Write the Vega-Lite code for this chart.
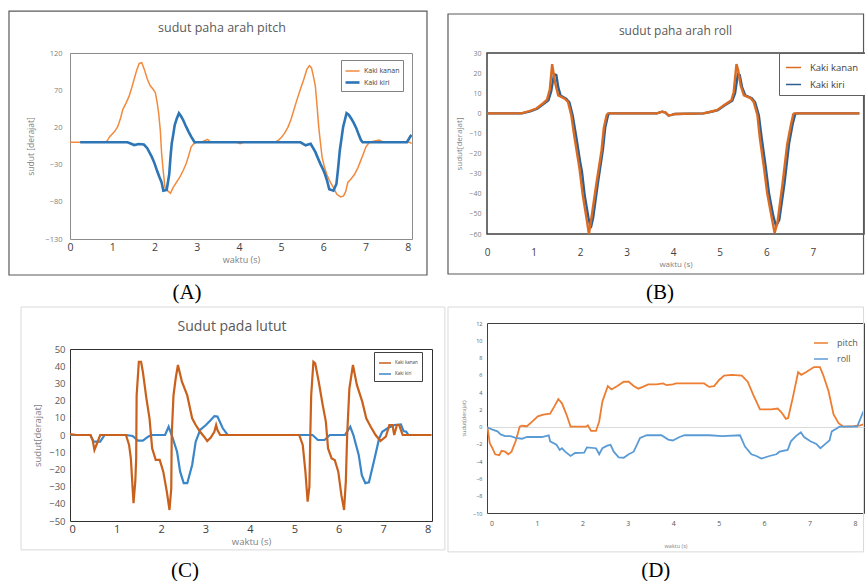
{
  "$schema": "https://vega.github.io/schema/vega-lite/v6.json",
  "background": "white",
  "padding": {"left": 7, "top": 9, "right": 0, "bottom": 0},
  "config": {
    "font": "Open Sans",
    "view": {"stroke": "#404040", "strokeWidth": 1},
    "axis": {"domain": false, "ticks": false, "grid": false, "labelColor": "#595959", "titleColor": "#7f7f7f", "titleFontWeight": "normal", "labelFlush": false, "labelOverlap": false},
    "title": {"fontWeight": "normal", "color": "#595959"},
    "legend": {"title": null, "symbolType": "stroke", "labelColor": "#404040"}
  },
  "resolve": {"scale": {"color": "independent", "strokeWidth": "independent"}, "legend": {"color": "independent", "strokeWidth": "independent"}},
  "datasets": {
    "frame": [{}],
    "A": [
      {"t":0,"v":0,"s":"Kaki kanan"},{"t":0.82,"v":0,"s":"Kaki kanan"},{"t":0.88,"v":2,"s":"Kaki kanan"},{"t":0.94,"v":7.5,"s":"Kaki kanan"},{"t":1.05,"v":14,"s":"Kaki kanan"},{"t":1.13,"v":21,"s":"Kaki kanan"},{"t":1.2,"v":33,"s":"Kaki kanan"},{"t":1.25,"v":44,"s":"Kaki kanan"},{"t":1.33,"v":53,"s":"Kaki kanan"},{"t":1.4,"v":62,"s":"Kaki kanan"},{"t":1.46,"v":73,"s":"Kaki kanan"},{"t":1.52,"v":85,"s":"Kaki kanan"},{"t":1.58,"v":97,"s":"Kaki kanan"},{"t":1.64,"v":106,"s":"Kaki kanan"},{"t":1.7,"v":107,"s":"Kaki kanan"},{"t":1.76,"v":98,"s":"Kaki kanan"},{"t":1.83,"v":85,"s":"Kaki kanan"},{"t":1.9,"v":76,"s":"Kaki kanan"},{"t":1.96,"v":72,"s":"Kaki kanan"},{"t":2.02,"v":67,"s":"Kaki kanan"},{"t":2.06,"v":55,"s":"Kaki kanan"},{"t":2.1,"v":39,"s":"Kaki kanan"},{"t":2.14,"v":15,"s":"Kaki kanan"},{"t":2.17,"v":-15,"s":"Kaki kanan"},{"t":2.21,"v":-40,"s":"Kaki kanan"},{"t":2.25,"v":-61,"s":"Kaki kanan"},{"t":2.33,"v":-66,"s":"Kaki kanan"},{"t":2.38,"v":-68.5,"s":"Kaki kanan"},{"t":2.44,"v":-61,"s":"Kaki kanan"},{"t":2.52,"v":-54,"s":"Kaki kanan"},{"t":2.6,"v":-47,"s":"Kaki kanan"},{"t":2.68,"v":-38,"s":"Kaki kanan"},{"t":2.75,"v":-29,"s":"Kaki kanan"},{"t":2.81,"v":-18,"s":"Kaki kanan"},{"t":2.87,"v":-6,"s":"Kaki kanan"},{"t":2.93,"v":-2,"s":"Kaki kanan"},{"t":2.99,"v":0,"s":"Kaki kanan"},{"t":3.15,"v":1,"s":"Kaki kanan"},{"t":3.26,"v":4,"s":"Kaki kanan"},{"t":3.33,"v":0,"s":"Kaki kanan"},{"t":3.95,"v":0,"s":"Kaki kanan"},{"t":4.03,"v":-2,"s":"Kaki kanan"},{"t":4.1,"v":0,"s":"Kaki kanan"},{"t":4.85,"v":0,"s":"Kaki kanan"},{"t":4.92,"v":2,"s":"Kaki kanan"},{"t":5.0,"v":6,"s":"Kaki kanan"},{"t":5.08,"v":12,"s":"Kaki kanan"},{"t":5.16,"v":20,"s":"Kaki kanan"},{"t":5.23,"v":30,"s":"Kaki kanan"},{"t":5.3,"v":43,"s":"Kaki kanan"},{"t":5.38,"v":58,"s":"Kaki kanan"},{"t":5.46,"v":72,"s":"Kaki kanan"},{"t":5.54,"v":85,"s":"Kaki kanan"},{"t":5.61,"v":98,"s":"Kaki kanan"},{"t":5.67,"v":103,"s":"Kaki kanan"},{"t":5.72,"v":100,"s":"Kaki kanan"},{"t":5.76,"v":90,"s":"Kaki kanan"},{"t":5.81,"v":76,"s":"Kaki kanan"},{"t":5.85,"v":50,"s":"Kaki kanan"},{"t":5.89,"v":21,"s":"Kaki kanan"},{"t":5.93,"v":0,"s":"Kaki kanan"},{"t":5.97,"v":-20,"s":"Kaki kanan"},{"t":6.02,"v":-32,"s":"Kaki kanan"},{"t":6.08,"v":-43,"s":"Kaki kanan"},{"t":6.16,"v":-53,"s":"Kaki kanan"},{"t":6.24,"v":-61,"s":"Kaki kanan"},{"t":6.32,"v":-70,"s":"Kaki kanan"},{"t":6.41,"v":-73.5,"s":"Kaki kanan"},{"t":6.48,"v":-72,"s":"Kaki kanan"},{"t":6.53,"v":-66,"s":"Kaki kanan"},{"t":6.58,"v":-54,"s":"Kaki kanan"},{"t":6.66,"v":-49,"s":"Kaki kanan"},{"t":6.74,"v":-43,"s":"Kaki kanan"},{"t":6.82,"v":-34,"s":"Kaki kanan"},{"t":6.89,"v":-24,"s":"Kaki kanan"},{"t":6.95,"v":-15,"s":"Kaki kanan"},{"t":7.01,"v":-6,"s":"Kaki kanan"},{"t":7.09,"v":0,"s":"Kaki kanan"},{"t":7.32,"v":3,"s":"Kaki kanan"},{"t":7.43,"v":0,"s":"Kaki kanan"},{"t":8.05,"v":0,"s":"Kaki kanan"},{"t":8.09,"v":-2,"s":"Kaki kanan"},
      {"t":0.24,"v":0,"s":"Kaki kiri"},{"t":1.36,"v":0,"s":"Kaki kiri"},{"t":1.45,"v":-2,"s":"Kaki kiri"},{"t":1.52,"v":-3.7,"s":"Kaki kiri"},{"t":1.63,"v":-2.4,"s":"Kaki kiri"},{"t":1.75,"v":-3,"s":"Kaki kiri"},{"t":1.83,"v":-8,"s":"Kaki kiri"},{"t":1.94,"v":-20,"s":"Kaki kiri"},{"t":2.0,"v":-28,"s":"Kaki kiri"},{"t":2.06,"v":-38,"s":"Kaki kiri"},{"t":2.12,"v":-47,"s":"Kaki kiri"},{"t":2.17,"v":-54,"s":"Kaki kiri"},{"t":2.21,"v":-65,"s":"Kaki kiri"},{"t":2.29,"v":-64,"s":"Kaki kiri"},{"t":2.35,"v":-43,"s":"Kaki kiri"},{"t":2.38,"v":-20,"s":"Kaki kiri"},{"t":2.41,"v":-1.5,"s":"Kaki kiri"},{"t":2.45,"v":12,"s":"Kaki kiri"},{"t":2.48,"v":23,"s":"Kaki kiri"},{"t":2.53,"v":32,"s":"Kaki kiri"},{"t":2.58,"v":39,"s":"Kaki kiri"},{"t":2.63,"v":35,"s":"Kaki kiri"},{"t":2.68,"v":30,"s":"Kaki kiri"},{"t":2.75,"v":21,"s":"Kaki kiri"},{"t":2.81,"v":14,"s":"Kaki kiri"},{"t":2.87,"v":7.5,"s":"Kaki kiri"},{"t":2.95,"v":0,"s":"Kaki kiri"},{"t":5.46,"v":0,"s":"Kaki kiri"},{"t":5.58,"v":-4,"s":"Kaki kiri"},{"t":5.7,"v":-2,"s":"Kaki kiri"},{"t":5.81,"v":-13,"s":"Kaki kiri"},{"t":5.87,"v":-21,"s":"Kaki kiri"},{"t":5.93,"v":-29,"s":"Kaki kiri"},{"t":5.99,"v":-36,"s":"Kaki kiri"},{"t":6.04,"v":-43,"s":"Kaki kiri"},{"t":6.09,"v":-52,"s":"Kaki kiri"},{"t":6.14,"v":-63,"s":"Kaki kiri"},{"t":6.24,"v":-65,"s":"Kaki kiri"},{"t":6.31,"v":-56,"s":"Kaki kiri"},{"t":6.35,"v":-35,"s":"Kaki kiri"},{"t":6.39,"v":-11,"s":"Kaki kiri"},{"t":6.43,"v":5,"s":"Kaki kiri"},{"t":6.47,"v":21,"s":"Kaki kiri"},{"t":6.51,"v":30,"s":"Kaki kiri"},{"t":6.55,"v":39,"s":"Kaki kiri"},{"t":6.6,"v":37,"s":"Kaki kiri"},{"t":6.66,"v":32,"s":"Kaki kiri"},{"t":6.72,"v":26,"s":"Kaki kiri"},{"t":6.78,"v":19,"s":"Kaki kiri"},{"t":6.84,"v":10,"s":"Kaki kiri"},{"t":6.89,"v":3,"s":"Kaki kiri"},{"t":6.93,"v":0,"s":"Kaki kiri"},{"t":7.98,"v":0,"s":"Kaki kiri"},{"t":8.06,"v":7.7,"s":"Kaki kiri"},{"t":8.09,"v":10,"s":"Kaki kiri"}
    ],
    "B": [
      {"t":0,"v":0,"s":"Kaki kiri"},{"t":0.75,"v":0,"s":"Kaki kiri"},{"t":0.93,"v":1,"s":"Kaki kiri"},{"t":1.08,"v":2.3,"s":"Kaki kiri"},{"t":1.22,"v":4.7,"s":"Kaki kiri"},{"t":1.32,"v":6.5,"s":"Kaki kiri"},{"t":1.38,"v":11,"s":"Kaki kiri"},{"t":1.44,"v":19.5,"s":"Kaki kiri"},{"t":1.49,"v":19,"s":"Kaki kiri"},{"t":1.53,"v":13,"s":"Kaki kiri"},{"t":1.58,"v":8.9,"s":"Kaki kiri"},{"t":1.7,"v":7.3,"s":"Kaki kiri"},{"t":1.77,"v":5.5,"s":"Kaki kiri"},{"t":1.84,"v":-1,"s":"Kaki kiri"},{"t":1.92,"v":-12,"s":"Kaki kiri"},{"t":2.0,"v":-24,"s":"Kaki kiri"},{"t":2.04,"v":-29,"s":"Kaki kiri"},{"t":2.1,"v":-41,"s":"Kaki kiri"},{"t":2.18,"v":-52,"s":"Kaki kiri"},{"t":2.23,"v":-57,"s":"Kaki kiri"},{"t":2.28,"v":-52,"s":"Kaki kiri"},{"t":2.38,"v":-35,"s":"Kaki kiri"},{"t":2.49,"v":-18,"s":"Kaki kiri"},{"t":2.54,"v":-7,"s":"Kaki kiri"},{"t":2.6,"v":-1,"s":"Kaki kiri"},{"t":2.63,"v":0,"s":"Kaki kiri"},{"t":3.65,"v":0,"s":"Kaki kiri"},{"t":3.76,"v":0.8,"s":"Kaki kiri"},{"t":3.83,"v":0.5,"s":"Kaki kiri"},{"t":3.9,"v":-1.1,"s":"Kaki kiri"},{"t":3.97,"v":-0.8,"s":"Kaki kiri"},{"t":4.04,"v":-0.3,"s":"Kaki kiri"},{"t":4.65,"v":0,"s":"Kaki kiri"},{"t":4.82,"v":0.8,"s":"Kaki kiri"},{"t":4.96,"v":1.6,"s":"Kaki kiri"},{"t":5.11,"v":4,"s":"Kaki kiri"},{"t":5.27,"v":6.3,"s":"Kaki kiri"},{"t":5.33,"v":10,"s":"Kaki kiri"},{"t":5.39,"v":19.5,"s":"Kaki kiri"},{"t":5.43,"v":19,"s":"Kaki kiri"},{"t":5.48,"v":13,"s":"Kaki kiri"},{"t":5.55,"v":8.9,"s":"Kaki kiri"},{"t":5.69,"v":7.5,"s":"Kaki kiri"},{"t":5.76,"v":5.5,"s":"Kaki kiri"},{"t":5.84,"v":-1,"s":"Kaki kiri"},{"t":5.9,"v":-12,"s":"Kaki kiri"},{"t":5.99,"v":-27,"s":"Kaki kiri"},{"t":6.06,"v":-40,"s":"Kaki kiri"},{"t":6.15,"v":-51,"s":"Kaki kiri"},{"t":6.21,"v":-56,"s":"Kaki kiri"},{"t":6.28,"v":-53,"s":"Kaki kiri"},{"t":6.39,"v":-35,"s":"Kaki kiri"},{"t":6.49,"v":-15,"s":"Kaki kiri"},{"t":6.57,"v":-5,"s":"Kaki kiri"},{"t":6.62,"v":-0.5,"s":"Kaki kiri"},{"t":6.65,"v":0,"s":"Kaki kiri"},{"t":8,"v":0,"s":"Kaki kiri"},
      {"t":0,"v":0,"s":"Kaki kanan"},{"t":0.73,"v":0,"s":"Kaki kanan"},{"t":0.91,"v":1.1,"s":"Kaki kanan"},{"t":1.06,"v":2.4,"s":"Kaki kanan"},{"t":1.2,"v":4.9,"s":"Kaki kanan"},{"t":1.29,"v":6.8,"s":"Kaki kanan"},{"t":1.35,"v":12,"s":"Kaki kanan"},{"t":1.4,"v":24.5,"s":"Kaki kanan"},{"t":1.43,"v":20,"s":"Kaki kanan"},{"t":1.47,"v":14.6,"s":"Kaki kanan"},{"t":1.53,"v":8.9,"s":"Kaki kanan"},{"t":1.67,"v":7.3,"s":"Kaki kanan"},{"t":1.74,"v":5.7,"s":"Kaki kanan"},{"t":1.81,"v":-0.8,"s":"Kaki kanan"},{"t":1.88,"v":-12,"s":"Kaki kanan"},{"t":1.96,"v":-23.5,"s":"Kaki kanan"},{"t":1.99,"v":-28,"s":"Kaki kanan"},{"t":2.06,"v":-41,"s":"Kaki kanan"},{"t":2.14,"v":-52.5,"s":"Kaki kanan"},{"t":2.19,"v":-60,"s":"Kaki kanan"},{"t":2.24,"v":-52.5,"s":"Kaki kanan"},{"t":2.35,"v":-35,"s":"Kaki kanan"},{"t":2.46,"v":-18.6,"s":"Kaki kanan"},{"t":2.51,"v":-7.3,"s":"Kaki kanan"},{"t":2.57,"v":-0.8,"s":"Kaki kanan"},{"t":2.6,"v":0,"s":"Kaki kanan"},{"t":3.65,"v":0,"s":"Kaki kanan"},{"t":3.76,"v":0.8,"s":"Kaki kanan"},{"t":3.83,"v":0.5,"s":"Kaki kanan"},{"t":3.9,"v":-1.1,"s":"Kaki kanan"},{"t":3.97,"v":-0.8,"s":"Kaki kanan"},{"t":4.04,"v":-0.3,"s":"Kaki kanan"},{"t":4.65,"v":0,"s":"Kaki kanan"},{"t":4.8,"v":0.8,"s":"Kaki kanan"},{"t":4.94,"v":1.6,"s":"Kaki kanan"},{"t":5.09,"v":4,"s":"Kaki kanan"},{"t":5.25,"v":6.5,"s":"Kaki kanan"},{"t":5.3,"v":10.5,"s":"Kaki kanan"},{"t":5.36,"v":24.5,"s":"Kaki kanan"},{"t":5.4,"v":21,"s":"Kaki kanan"},{"t":5.45,"v":13.8,"s":"Kaki kanan"},{"t":5.52,"v":8.9,"s":"Kaki kanan"},{"t":5.66,"v":7.6,"s":"Kaki kanan"},{"t":5.73,"v":5.7,"s":"Kaki kanan"},{"t":5.81,"v":-0.8,"s":"Kaki kanan"},{"t":5.86,"v":-12,"s":"Kaki kanan"},{"t":5.95,"v":-26.8,"s":"Kaki kanan"},{"t":6.02,"v":-39.7,"s":"Kaki kanan"},{"t":6.11,"v":-51,"s":"Kaki kanan"},{"t":6.18,"v":-59.5,"s":"Kaki kanan"},{"t":6.24,"v":-54.3,"s":"Kaki kanan"},{"t":6.35,"v":-35,"s":"Kaki kanan"},{"t":6.45,"v":-15.4,"s":"Kaki kanan"},{"t":6.53,"v":-5.7,"s":"Kaki kanan"},{"t":6.58,"v":-0.5,"s":"Kaki kanan"},{"t":6.6,"v":0,"s":"Kaki kanan"},{"t":8,"v":0,"s":"Kaki kanan"}
    ],
    "C": [
      {"t":-0.05,"v":0,"s":"Kaki kiri"},{"t":0.41,"v":0,"s":"Kaki kiri"},{"t":0.48,"v":-3.9,"s":"Kaki kiri"},{"t":0.63,"v":-3.9,"s":"Kaki kiri"},{"t":0.73,"v":0,"s":"Kaki kiri"},{"t":1.21,"v":0,"s":"Kaki kiri"},{"t":1.36,"v":-0.6,"s":"Kaki kiri"},{"t":1.48,"v":-3.3,"s":"Kaki kiri"},{"t":1.59,"v":-3.3,"s":"Kaki kiri"},{"t":1.71,"v":-1,"s":"Kaki kiri"},{"t":1.78,"v":0,"s":"Kaki kiri"},{"t":2.09,"v":0,"s":"Kaki kiri"},{"t":2.17,"v":4.8,"s":"Kaki kiri"},{"t":2.24,"v":0,"s":"Kaki kiri"},{"t":2.36,"v":-9.7,"s":"Kaki kiri"},{"t":2.43,"v":-21.3,"s":"Kaki kiri"},{"t":2.51,"v":-28,"s":"Kaki kiri"},{"t":2.59,"v":-28,"s":"Kaki kiri"},{"t":2.7,"v":-17.4,"s":"Kaki kiri"},{"t":2.78,"v":-3.9,"s":"Kaki kiri"},{"t":2.88,"v":2.9,"s":"Kaki kiri"},{"t":3.01,"v":5.8,"s":"Kaki kiri"},{"t":3.12,"v":8.7,"s":"Kaki kiri"},{"t":3.2,"v":11,"s":"Kaki kiri"},{"t":3.27,"v":10.7,"s":"Kaki kiri"},{"t":3.39,"v":3.9,"s":"Kaki kiri"},{"t":3.5,"v":0,"s":"Kaki kiri"},{"t":5.41,"v":0,"s":"Kaki kiri"},{"t":5.53,"v":-2.9,"s":"Kaki kiri"},{"t":5.68,"v":-2.9,"s":"Kaki kiri"},{"t":5.8,"v":0,"s":"Kaki kiri"},{"t":6.14,"v":0,"s":"Kaki kiri"},{"t":6.26,"v":4.8,"s":"Kaki kiri"},{"t":6.33,"v":0,"s":"Kaki kiri"},{"t":6.45,"v":-11.6,"s":"Kaki kiri"},{"t":6.52,"v":-23.3,"s":"Kaki kiri"},{"t":6.6,"v":-28,"s":"Kaki kiri"},{"t":6.68,"v":-27.5,"s":"Kaki kiri"},{"t":6.79,"v":-15.5,"s":"Kaki kiri"},{"t":6.91,"v":-2,"s":"Kaki kiri"},{"t":6.98,"v":1.9,"s":"Kaki kiri"},{"t":7.1,"v":3.9,"s":"Kaki kiri"},{"t":7.25,"v":5.8,"s":"Kaki kiri"},{"t":7.4,"v":6.2,"s":"Kaki kiri"},{"t":7.46,"v":2.3,"s":"Kaki kiri"},{"t":7.52,"v":1.9,"s":"Kaki kiri"},{"t":7.57,"v":0,"s":"Kaki kiri"},
      {"t":-0.05,"v":0.5,"s":"Kaki kanan"},{"t":0.1,"v":0,"s":"Kaki kanan"},{"t":0.41,"v":0,"s":"Kaki kanan"},{"t":0.46,"v":-3,"s":"Kaki kanan"},{"t":0.5,"v":-8.7,"s":"Kaki kanan"},{"t":0.56,"v":-4.8,"s":"Kaki kanan"},{"t":0.63,"v":0,"s":"Kaki kanan"},{"t":1.21,"v":0,"s":"Kaki kanan"},{"t":1.28,"v":-5.8,"s":"Kaki kanan"},{"t":1.32,"v":-13.6,"s":"Kaki kanan"},{"t":1.36,"v":-31,"s":"Kaki kanan"},{"t":1.38,"v":-39.7,"s":"Kaki kanan"},{"t":1.42,"v":-27,"s":"Kaki kanan"},{"t":1.44,"v":-13.6,"s":"Kaki kanan"},{"t":1.45,"v":23,"s":"Kaki kanan"},{"t":1.5,"v":42.6,"s":"Kaki kanan"},{"t":1.55,"v":42.6,"s":"Kaki kanan"},{"t":1.59,"v":36.8,"s":"Kaki kanan"},{"t":1.67,"v":21.3,"s":"Kaki kanan"},{"t":1.74,"v":9.7,"s":"Kaki kanan"},{"t":1.8,"v":-7.8,"s":"Kaki kanan"},{"t":1.88,"v":-14.5,"s":"Kaki kanan"},{"t":1.97,"v":-14.5,"s":"Kaki kanan"},{"t":2.05,"v":-21.3,"s":"Kaki kanan"},{"t":2.13,"v":-33,"s":"Kaki kanan"},{"t":2.19,"v":-43.6,"s":"Kaki kanan"},{"t":2.23,"v":-31,"s":"Kaki kanan"},{"t":2.24,"v":0,"s":"Kaki kanan"},{"t":2.28,"v":23,"s":"Kaki kanan"},{"t":2.33,"v":33,"s":"Kaki kanan"},{"t":2.38,"v":40.7,"s":"Kaki kanan"},{"t":2.47,"v":31,"s":"Kaki kanan"},{"t":2.59,"v":23,"s":"Kaki kanan"},{"t":2.7,"v":9.7,"s":"Kaki kanan"},{"t":2.78,"v":5.8,"s":"Kaki kanan"},{"t":2.88,"v":1.9,"s":"Kaki kanan"},{"t":2.97,"v":-1,"s":"Kaki kanan"},{"t":3.04,"v":-3.5,"s":"Kaki kanan"},{"t":3.12,"v":-1.5,"s":"Kaki kanan"},{"t":3.2,"v":1.9,"s":"Kaki kanan"},{"t":3.24,"v":5.8,"s":"Kaki kanan"},{"t":3.27,"v":2.9,"s":"Kaki kanan"},{"t":3.33,"v":0,"s":"Kaki kanan"},{"t":5.11,"v":0,"s":"Kaki kanan"},{"t":5.19,"v":-5.8,"s":"Kaki kanan"},{"t":5.25,"v":-21.3,"s":"Kaki kanan"},{"t":5.3,"v":-38.8,"s":"Kaki kanan"},{"t":5.34,"v":-30,"s":"Kaki kanan"},{"t":5.36,"v":0,"s":"Kaki kanan"},{"t":5.38,"v":23,"s":"Kaki kanan"},{"t":5.43,"v":42.6,"s":"Kaki kanan"},{"t":5.47,"v":41.7,"s":"Kaki kanan"},{"t":5.55,"v":31,"s":"Kaki kanan"},{"t":5.64,"v":17.4,"s":"Kaki kanan"},{"t":5.71,"v":7.8,"s":"Kaki kanan"},{"t":5.76,"v":-7.8,"s":"Kaki kanan"},{"t":5.84,"v":-13.6,"s":"Kaki kanan"},{"t":5.91,"v":-14.5,"s":"Kaki kanan"},{"t":5.99,"v":-21.3,"s":"Kaki kanan"},{"t":6.06,"v":-35,"s":"Kaki kanan"},{"t":6.12,"v":-43.6,"s":"Kaki kanan"},{"t":6.16,"v":-27,"s":"Kaki kanan"},{"t":6.19,"v":0,"s":"Kaki kanan"},{"t":6.24,"v":27,"s":"Kaki kanan"},{"t":6.32,"v":40.7,"s":"Kaki kanan"},{"t":6.41,"v":29,"s":"Kaki kanan"},{"t":6.53,"v":19.4,"s":"Kaki kanan"},{"t":6.62,"v":9.7,"s":"Kaki kanan"},{"t":6.72,"v":4.8,"s":"Kaki kanan"},{"t":6.83,"v":0,"s":"Kaki kanan"},{"t":6.94,"v":-3.5,"s":"Kaki kanan"},{"t":7.06,"v":-1,"s":"Kaki kanan"},{"t":7.14,"v":5.8,"s":"Kaki kanan"},{"t":7.21,"v":5.8,"s":"Kaki kanan"},{"t":7.25,"v":0,"s":"Kaki kanan"},{"t":7.31,"v":5.8,"s":"Kaki kanan"},{"t":7.36,"v":5.8,"s":"Kaki kanan"},{"t":7.44,"v":0,"s":"Kaki kanan"},{"t":8.09,"v":0,"s":"Kaki kanan"}
    ],
    "D": [
      {"t":-0.09,"v":0,"s":"pitch"},{"t":-0.04,"v":-1.9,"s":"pitch"},{"t":0.02,"v":-2.5,"s":"pitch"},{"t":0.08,"v":-3.2,"s":"pitch"},{"t":0.17,"v":-3.3,"s":"pitch"},{"t":0.22,"v":-2.8,"s":"pitch"},{"t":0.3,"v":-2.9,"s":"pitch"},{"t":0.37,"v":-3.2,"s":"pitch"},{"t":0.44,"v":-2.9,"s":"pitch"},{"t":0.53,"v":-1.7,"s":"pitch"},{"t":0.62,"v":0,"s":"pitch"},{"t":0.67,"v":0.1,"s":"pitch"},{"t":0.78,"v":0.05,"s":"pitch"},{"t":0.9,"v":0.6,"s":"pitch"},{"t":1.02,"v":1.2,"s":"pitch"},{"t":1.14,"v":1.4,"s":"pitch"},{"t":1.29,"v":1.5,"s":"pitch"},{"t":1.39,"v":2.4,"s":"pitch"},{"t":1.47,"v":3.2,"s":"pitch"},{"t":1.55,"v":2.7,"s":"pitch"},{"t":1.65,"v":1.4,"s":"pitch"},{"t":1.74,"v":0,"s":"pitch"},{"t":2.08,"v":0,"s":"pitch"},{"t":2.12,"v":0.15,"s":"pitch"},{"t":2.19,"v":-0.5,"s":"pitch"},{"t":2.3,"v":-0.5,"s":"pitch"},{"t":2.37,"v":0.6,"s":"pitch"},{"t":2.44,"v":2.9,"s":"pitch"},{"t":2.56,"v":4.7,"s":"pitch"},{"t":2.64,"v":4.3,"s":"pitch"},{"t":2.77,"v":4.7,"s":"pitch"},{"t":2.91,"v":5.2,"s":"pitch"},{"t":3.02,"v":5.2,"s":"pitch"},{"t":3.13,"v":4.7,"s":"pitch"},{"t":3.23,"v":4.4,"s":"pitch"},{"t":3.33,"v":4.6,"s":"pitch"},{"t":3.45,"v":4.9,"s":"pitch"},{"t":3.63,"v":4.9,"s":"pitch"},{"t":3.78,"v":5.0,"s":"pitch"},{"t":3.85,"v":4.8,"s":"pitch"},{"t":3.99,"v":4.9,"s":"pitch"},{"t":4.06,"v":5.0,"s":"pitch"},{"t":4.68,"v":5.0,"s":"pitch"},{"t":4.79,"v":4.6,"s":"pitch"},{"t":4.9,"v":4.7,"s":"pitch"},{"t":5.01,"v":5.4,"s":"pitch"},{"t":5.12,"v":5.9,"s":"pitch"},{"t":5.29,"v":6.0,"s":"pitch"},{"t":5.51,"v":5.9,"s":"pitch"},{"t":5.64,"v":5.2,"s":"pitch"},{"t":5.76,"v":3.7,"s":"pitch"},{"t":5.91,"v":2.0,"s":"pitch"},{"t":6.16,"v":2.0,"s":"pitch"},{"t":6.3,"v":2.1,"s":"pitch"},{"t":6.39,"v":1.6,"s":"pitch"},{"t":6.48,"v":0.9,"s":"pitch"},{"t":6.53,"v":1.0,"s":"pitch"},{"t":6.63,"v":3.3,"s":"pitch"},{"t":6.75,"v":6.3,"s":"pitch"},{"t":6.82,"v":6.0,"s":"pitch"},{"t":6.92,"v":6.3,"s":"pitch"},{"t":7.1,"v":6.9,"s":"pitch"},{"t":7.23,"v":6.9,"s":"pitch"},{"t":7.3,"v":6.0,"s":"pitch"},{"t":7.42,"v":4.1,"s":"pitch"},{"t":7.53,"v":1.4,"s":"pitch"},{"t":7.64,"v":0.4,"s":"pitch"},{"t":7.75,"v":0,"s":"pitch"},{"t":7.97,"v":0.05,"s":"pitch"},{"t":8.12,"v":0.15,"s":"pitch"},{"t":8.2,"v":0.3,"s":"pitch"},
      {"t":-0.09,"v":-0.1,"s":"roll"},{"t":0.02,"v":-0.35,"s":"roll"},{"t":0.13,"v":-0.55,"s":"roll"},{"t":0.2,"v":-0.9,"s":"roll"},{"t":0.3,"v":-1.1,"s":"roll"},{"t":0.42,"v":-1.1,"s":"roll"},{"t":0.53,"v":-1.3,"s":"roll"},{"t":0.67,"v":-1.4,"s":"roll"},{"t":0.78,"v":-1.2,"s":"roll"},{"t":1.11,"v":-1.2,"s":"roll"},{"t":1.26,"v":-1.0,"s":"roll"},{"t":1.29,"v":-1.7,"s":"roll"},{"t":1.43,"v":-2.1,"s":"roll"},{"t":1.5,"v":-2.7,"s":"roll"},{"t":1.55,"v":-2.5,"s":"roll"},{"t":1.62,"v":-2.9,"s":"roll"},{"t":1.74,"v":-3.4,"s":"roll"},{"t":1.84,"v":-3.05,"s":"roll"},{"t":2.04,"v":-3.0,"s":"roll"},{"t":2.1,"v":-2.4,"s":"roll"},{"t":2.3,"v":-2.5,"s":"roll"},{"t":2.37,"v":-3.2,"s":"roll"},{"t":2.44,"v":-2.5,"s":"roll"},{"t":2.55,"v":-2.2,"s":"roll"},{"t":2.62,"v":-2.1,"s":"roll"},{"t":2.69,"v":-2.9,"s":"roll"},{"t":2.8,"v":-3.55,"s":"roll"},{"t":2.91,"v":-3.6,"s":"roll"},{"t":3.02,"v":-3.2,"s":"roll"},{"t":3.13,"v":-2.9,"s":"roll"},{"t":3.27,"v":-1.3,"s":"roll"},{"t":3.42,"v":-1.0,"s":"roll"},{"t":3.74,"v":-1.0,"s":"roll"},{"t":3.89,"v":-1.5,"s":"roll"},{"t":3.99,"v":-1.6,"s":"roll"},{"t":4.14,"v":-1.2,"s":"roll"},{"t":4.25,"v":-1.0,"s":"roll"},{"t":4.79,"v":-1.0,"s":"roll"},{"t":5.08,"v":-1.1,"s":"roll"},{"t":5.47,"v":-1.0,"s":"roll"},{"t":5.58,"v":-2.3,"s":"roll"},{"t":5.72,"v":-3.2,"s":"roll"},{"t":5.83,"v":-3.4,"s":"roll"},{"t":5.94,"v":-3.7,"s":"roll"},{"t":6.12,"v":-3.4,"s":"roll"},{"t":6.27,"v":-3.2,"s":"roll"},{"t":6.34,"v":-2.9,"s":"roll"},{"t":6.52,"v":-2.7,"s":"roll"},{"t":6.59,"v":-1.7,"s":"roll"},{"t":6.7,"v":-1.1,"s":"roll"},{"t":6.81,"v":-0.65,"s":"roll"},{"t":6.88,"v":-1.2,"s":"roll"},{"t":7.02,"v":-1.7,"s":"roll"},{"t":7.15,"v":-2.0,"s":"roll"},{"t":7.24,"v":-2.5,"s":"roll"},{"t":7.35,"v":-2.0,"s":"roll"},{"t":7.44,"v":-1.6,"s":"roll"},{"t":7.49,"v":-0.55,"s":"roll"},{"t":7.59,"v":-0.25,"s":"roll"},{"t":7.66,"v":0,"s":"roll"},{"t":8.05,"v":0,"s":"roll"},{"t":8.19,"v":1.8,"s":"roll"}
    ]
  },
  "hconcat": [
    {
      "spacing": 2,
      "resolve": {"scale": {"color": "independent", "strokeWidth": "independent"}, "legend": {"color": "independent", "strokeWidth": "independent"}},
      "vconcat": [
        {
          "vconcat": [
            {
              "width": 342, "height": 186,
              "title": {"text": "sudut paha arah pitch", "fontSize": 12.5, "anchor": "middle", "frame": "group", "offset": -24, "dx": -19},
              "view": {"stroke": "#8c8c8c"},
              "layer": [
                {
                  "data": {"name": "A"},
                  "mark": {"type": "line", "clip": true},
                  "encoding": {
                    "x": {"field": "t", "type": "quantitative", "scale": {"domain": [0, 8.1], "nice": false, "zero": false},
                      "axis": {"values": [0,1,2,3,4,5,6,7,8], "labelOverlap": false, "labelFontSize": 10.5, "labelColor": "#404040", "labelPadding": 3, "title": "waktu (s)", "titleFontSize": 9, "titlePadding": 3}},
                    "y": {"field": "v", "type": "quantitative", "scale": {"domain": [-130, 120], "nice": false, "zero": false},
                      "axis": {"values": [-130,-80,-30,20,70,120], "labelOverlap": false, "labelFontSize": 7.5, "labelColor": "#7f7f7f", "labelPadding": 8, "title": "sudut [derajat]", "titleFontSize": 8.5, "titlePadding": 9}},
                    "color": {"field": "s", "type": "nominal", "scale": {"domain": ["Kaki kanan", "Kaki kiri"], "range": ["#F28A3D", "#2E75B6"]},
                      "legend": {"orient": "none", "legendX": 271, "legendY": 7, "labelFontSize": 7, "symbolSize": 196, "symbolStrokeWidth": 1.5, "strokeColor": "#808080", "fillColor": "white", "padding": 3, "rowPadding": 0, "labelOffset": 3}},
                    "strokeWidth": {"field": "s", "type": "nominal", "scale": {"domain": ["Kaki kanan", "Kaki kiri"], "range": [1.5, 2.6]}, "legend": null}
                  }
                },
                {
                  "data": {"name": "frame"},
                  "mark": {"type": "rect", "fillOpacity": 0, "stroke": "#5a5a5a", "strokeWidth": 1.2, "clip": false},
                  "encoding": {
                    "x": {"datum": -1.445, "type": "quantitative", "scale": {"domain": [0, 8.1], "nice": false, "zero": false},
                      "axis": {"values": [0,1,2,3,4,5,6,7,8], "labelOverlap": false, "labelFontSize": 10.5, "labelColor": "#404040", "labelPadding": 3, "title": "waktu (s)", "titleFontSize": 9, "titlePadding": 3}},
                    "x2": {"datum": 8.455},
                    "y": {"datum": 176.4, "type": "quantitative", "scale": {"domain": [-130, 120], "nice": false, "zero": false},
                      "axis": {"values": [-130,-80,-30,20,70,120], "labelOverlap": false, "labelFontSize": 7.5, "labelColor": "#7f7f7f", "labelPadding": 8, "title": "sudut [derajat]", "titleFontSize": 8.5, "titlePadding": 9}},
                    "y2": {"datum": -178.4}
                  }
                }
              ]
            }
          ],
          "title": {"text": "(A)", "orient": "bottom", "anchor": "middle", "font": "Liberation Serif", "fontSize": 21, "color": "#000000", "offset": 6, "dx": -31}
        },
        {
          "vconcat": [
            {
              "width": 362, "height": 172,
              "title": {"text": "Sudut pada lutut", "fontSize": 14, "anchor": "middle", "frame": "group", "offset": -27, "dx": -19},
              "view": {"stroke": "#303030"},
              "layer": [
                {
                  "data": {"name": "C"},
                  "mark": {"type": "line", "clip": true, "strokeWidth": 2.2},
                  "encoding": {
                    "x": {"field": "t", "type": "quantitative", "scale": {"domain": [-0.05, 8.1], "nice": false, "zero": false},
                      "axis": {"values": [0,1,2,3,4,5,6,7,8], "labelOverlap": false, "labelFontSize": 11, "labelColor": "#404040", "labelPadding": 2, "title": "waktu (s)", "titleFontSize": 9.5, "titlePadding": 2}},
                    "y": {"field": "v", "type": "quantitative", "scale": {"domain": [-50, 50], "nice": false, "zero": false},
                      "axis": {"values": [-50,-40,-30,-20,-10,0,10,20,30,40,50], "labelOverlap": false, "labelFontSize": 9.5, "labelColor": "#595959", "labelPadding": 5, "title": "sudut[derajat]", "titleFontSize": 9.5, "titlePadding": 6}},
                    "color": {"field": "s", "type": "nominal", "scale": {"domain": ["Kaki kanan", "Kaki kiri"], "range": ["#C9601B", "#3A86C8"]},
                      "legend": {"orient": "none", "legendX": 304, "legendY": 3, "labelFontSize": 4.5, "symbolSize": 144, "symbolStrokeWidth": 1.5, "strokeColor": "#404040", "fillColor": "white", "padding": 4, "rowPadding": 1, "labelOffset": 3}}
                  }
                },
                {
                  "data": {"name": "frame"},
                  "mark": {"type": "rect", "fillOpacity": 0, "stroke": "#d9d9d9", "strokeWidth": 1, "clip": false},
                  "encoding": {
                    "x": {"datum": -1.153, "type": "quantitative", "scale": {"domain": [-0.05, 8.1], "nice": false, "zero": false},
                      "axis": {"values": [0,1,2,3,4,5,6,7,8], "labelOverlap": false, "labelFontSize": 11, "labelColor": "#404040", "labelPadding": 2, "title": "waktu (s)", "titleFontSize": 9.5, "titlePadding": 2}},
                    "x2": {"datum": 8.39},
                    "y": {"datum": 74.4, "type": "quantitative", "scale": {"domain": [-50, 50], "nice": false, "zero": false},
                      "axis": {"values": [-50,-40,-30,-20,-10,0,10,20,30,40,50], "labelOverlap": false, "labelFontSize": 9.5, "labelColor": "#595959", "labelPadding": 5, "title": "sudut[derajat]", "titleFontSize": 9.5, "titlePadding": 6}},
                    "y2": {"datum": -66.8}
                  }
                }
              ]
            }
          ],
          "title": {"text": "(C)", "orient": "bottom", "anchor": "middle", "font": "Liberation Serif", "fontSize": 21, "color": "#000000", "offset": 9, "dx": -48}
        }
      ]
    },
    {
      "spacing": 2,
      "resolve": {"scale": {"color": "independent"}, "legend": {"color": "independent"}},
      "vconcat": [
        {
          "vconcat": [
            {
              "width": 377, "height": 181,
              "title": {"text": "sudut paha arah roll", "fontSize": 12, "anchor": "middle", "frame": "group", "offset": -25, "dx": 0},
              "view": {"stroke": "#404040", "strokeWidth": 1.5},
              "layer": [
                {
                  "data": {"name": "B"},
                  "mark": {"type": "line", "clip": true, "strokeWidth": 2.4},
                  "encoding": {
                    "x": {"field": "t", "type": "quantitative", "scale": {"domain": [0, 8.1], "nice": false, "zero": false},
                      "axis": {"values": [0,1,2,3,4,5,6,7], "labelOverlap": false, "labelFontSize": 10, "labelColor": "#404040", "labelPadding": 13, "title": "waktu (s)", "titleFontSize": 8, "titlePadding": 3}},
                    "y": {"field": "v", "type": "quantitative", "scale": {"domain": [-60, 30], "nice": false, "zero": false},
                      "axis": {"values": [-60,-50,-40,-30,-20,-10,0,10,20,30], "labelOverlap": false, "labelFontSize": 7, "labelColor": "#7f7f7f", "labelPadding": 6, "title": "sudut[derajat]", "titleFontSize": 8, "titlePadding": 5}},
                    "color": {"field": "s", "type": "nominal", "scale": {"domain": ["Kaki kanan", "Kaki kiri"], "range": ["#DC6B22", "#2D5F91"]},
                      "legend": {"orient": "none", "legendX": 292, "legendY": 0, "labelFontSize": 9.5, "symbolSize": 225, "symbolStrokeWidth": 1.5, "strokeColor": "#606060", "fillColor": "white", "padding": 6, "rowPadding": 4, "labelOffset": 8}}
                  }
                },
                {
                  "data": {"name": "frame"},
                  "mark": {"type": "rect", "fillOpacity": 0, "stroke": "#5a5a5a", "strokeWidth": 1.2, "clip": false},
                  "encoding": {
                    "x": {"datum": -0.838, "type": "quantitative", "scale": {"domain": [0, 8.1], "nice": false, "zero": false},
                      "axis": {"values": [0,1,2,3,4,5,6,7], "labelOverlap": false, "labelFontSize": 10, "labelColor": "#404040", "labelPadding": 13, "title": "waktu (s)", "titleFontSize": 8, "titlePadding": 3}},
                    "x2": {"datum": 8.09},
                    "y": {"datum": 49.4, "type": "quantitative", "scale": {"domain": [-60, 30], "nice": false, "zero": false},
                      "axis": {"values": [-60,-50,-40,-30,-20,-10,0,10,20,30], "labelOverlap": false, "labelFontSize": 7, "labelColor": "#7f7f7f", "labelPadding": 6, "title": "sudut[derajat]", "titleFontSize": 8, "titlePadding": 5}},
                    "y2": {"datum": -79.9}
                  }
                }
              ]
            }
          ],
          "title": {"text": "(B)", "orient": "bottom", "anchor": "middle", "font": "Liberation Serif", "fontSize": 21, "color": "#000000", "offset": 7, "dx": 4}
        },
        {
          "vconcat": [
            {
              "width": 377, "height": 190,
              "view": {"stroke": "#404040"},
              "layer": [
                {
                  "data": {"name": "D"},
                  "mark": {"type": "line", "clip": true, "strokeWidth": 1.8},
                  "encoding": {
                    "x": {"field": "t", "type": "quantitative", "scale": {"domain": [-0.1, 8.2], "nice": false, "zero": false},
                      "axis": {"values": [0,1,2,3,4,5,6,7,8], "labelOverlap": false, "labelFontSize": 7, "labelColor": "#595959", "labelPadding": 6, "title": "waktu (s)", "titleFontSize": 5.5, "titlePadding": 17}},
                    "y": {"field": "v", "type": "quantitative", "scale": {"domain": [-10, 12], "nice": false, "zero": false},
                      "axis": {"values": [-10,-8,-6,-4,-2,0,2,4,6,8,10,12], "labelOverlap": false, "labelFontSize": 5.5, "labelColor": "#595959", "labelPadding": 5, "title": "sudut(derajat)", "titleFontSize": 5.5, "titlePadding": 6,
                        "grid": true, "gridColor": {"condition": {"test": "datum.value === 0", "value": "#d9d9d9"}, "value": "transparent"}}},
                    "color": {"field": "s", "type": "nominal", "scale": {"domain": ["pitch", "roll"], "range": ["#ED7D31", "#5B9BD5"]},
                      "legend": {"orient": "none", "legendX": 326, "legendY": 12, "labelFontSize": 9, "labelColor": "#595959", "symbolSize": 196, "symbolStrokeWidth": 1.5, "padding": 0, "rowPadding": 3, "labelOffset": 8}}
                  }
                },
                {
                  "data": {"name": "frame"},
                  "mark": {"type": "rect", "fillOpacity": 0, "stroke": "#d9d9d9", "strokeWidth": 1, "clip": false},
                  "encoding": {
                    "x": {"datum": -0.959, "type": "quantitative", "scale": {"domain": [-0.1, 8.2], "nice": false, "zero": false},
                      "axis": {"values": [0,1,2,3,4,5,6,7,8], "labelOverlap": false, "labelFontSize": 7, "labelColor": "#595959", "labelPadding": 6, "title": "waktu (s)", "titleFontSize": 5.5, "titlePadding": 17}},
                    "x2": {"datum": 8.19},
                    "y": {"datum": 13.85, "type": "quantitative", "scale": {"domain": [-10, 12], "nice": false, "zero": false},
                      "axis": {"values": [-10,-8,-6,-4,-2,0,2,4,6,8,10,12], "labelOverlap": false, "labelFontSize": 5.5, "labelColor": "#595959", "labelPadding": 5, "title": "sudut(derajat)", "titleFontSize": 5.5, "titlePadding": 6,
                        "grid": true, "gridColor": {"condition": {"test": "datum.value === 0", "value": "#d9d9d9"}, "value": "transparent"}}},
                    "y2": {"datum": -14.5}
                  }
                }
              ]
            }
          ],
          "title": {"text": "(D)", "orient": "bottom", "anchor": "middle", "font": "Liberation Serif", "fontSize": 21, "color": "#000000", "offset": 7, "dx": 0}
        }
      ]
    }
  ],
  "spacing": 0
}
